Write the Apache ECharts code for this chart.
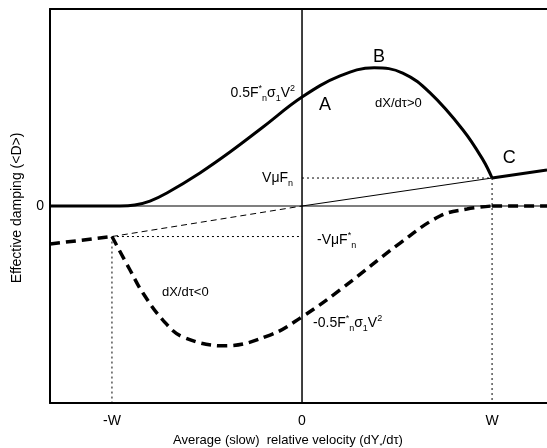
<!DOCTYPE html>
<html>
<head>
<meta charset="utf-8">
<script src="https://cdn.jsdelivr.net/npm/echarts@6/dist/echarts.min.js"></script>
<style>html,body{margin:0;padding:0;background:#fff}#c{width:547px;height:448px}</style>
</head>
<body>
<div id="c"></div>
<script>
// Units: x in multiples of W, y in normalised damping units
const xRange = [-1.326, 1.289];
const yRange = [-1, 1];
const xTickValues = [-1, 0, 1];
const xTickLabels = ['-W', '0', 'W'];
const yTickValues = [0];
const yTickLabels = ['0'];

// <D> for dX/dτ>0 (bold solid)
const solidCurve = [
  [-1.326, 0], [-0.958, 0], [-0.88, 0.005], [-0.80, 0.025], [-0.711, 0.066],
  [-0.537, 0.168], [-0.379, 0.274], [-0.205, 0.401], [0, 0.553], [0.2, 0.66],
  [0.38, 0.702], [0.53, 0.675], [0.674, 0.574], [0.847, 0.386],
  [0.953, 0.233], [1.0, 0.142]
];
const solidTail = [[1.0, 0.142], [1.289, 0.183]];

// <D> for dX/dτ<0 (bold dashed)
const dashedHead = [[-1.326, -0.193], [-1.0, -0.155]];
const dashedCurve = [
  [-1.0, -0.155], [-0.905, -0.325], [-0.837, -0.442], [-0.732, -0.579], [-0.626, -0.665],
  [-0.405, -0.71], [-0.168, -0.655], [0, -0.563], [0.2, -0.426],
  [0.516, -0.188], [0.726, -0.051], [0.868, -0.015], [1.0, 0]
];
const dashedTail = [[1.0, 0], [1.289, 0]];

// friction lines
const frictionPos = [[0, 0], [1.0, 0.142]];
const frictionNeg = [[-1.0, -0.155], [0, 0]];
const guideUpperH = [[0, 0.142], [1.0, 0.142]];
const guideUpperV = [[1.0, 0.142], [1.0, -1]];
const guideLowerH = [[-1.0, -0.155], [0, -0.155]];
const guideLowerV = [[-1.0, -0.155], [-1.0, -1]];
const zeroLine = [[-1.326, 0], [1.289, 0]];
const originLine = [[0, -1], [0, 1]];

// annotations [x, y, text, align, size]
const annotations = [
  [-0.037, 0.575, '{n|0.5F}{sup|*}{sub|n}{n|σ}{sub|1}{n|V}{sup|2}', 'right', 14],
  [0.121, 0.51, '{n|A}', 'center', 18],
  [0.405, 0.756, '{n|B}', 'center', 18],
  [1.09, 0.244, '{n|C}', 'center', 18],
  [0.384, 0.523, '{n|dX/dτ>0}', 'left', 13],
  [-0.047, 0.142, '{n|VμF}{sub|n}', 'right', 14],
  [0.079, -0.172, '{n|-VμF}{sup|*}{sub|n}', 'left', 14],
  [-0.737, -0.437, '{n|dX/dτ<0}', 'left', 13],
  [0.058, -0.594, '{n|-0.5F}{sup|*}{sub|n}{n|σ}{sub|1}{n|V}{sup|2}', 'left', 14]
];

const FONT = 'Liberation Sans, Arial, sans-serif';
const chart = echarts.init(document.getElementById('c'), null, {renderer: 'canvas'});

function line(data, width, type, smooth, z) {
  return {
    type: 'line', data: data, symbol: 'none', smooth: smooth || false,
    lineStyle: {color: '#000', width: width, type: type || 'solid', cap: 'butt'},
    silent: true, animation: false, z: z || 2
  };
}

chart.setOption({
  animation: false,
  backgroundColor: '#fff',
  grid: {left: 50, right: 0, top: 9, bottom: 45},
  xAxis: [{
    type: 'value', min: xRange[0], max: xRange[1], position: 'bottom',
    splitLine: {show: false},
    axisLine: {show: true, onZero: false, lineStyle: {color: '#000', width: 2}},
    axisTick: {show: false},
    axisLabel: {
      customValues: xTickValues, margin: 11, color: '#000', fontSize: 14, fontFamily: FONT,
      formatter: v => { const i = xTickValues.findIndex(t => Math.abs(t - v) < 1e-6); return i >= 0 ? xTickLabels[i] : ''; }
    }
  }, {
    type: 'value', min: xRange[0], max: xRange[1], position: 'top',
    splitLine: {show: false}, axisTick: {show: false}, axisLabel: {show: false},
    axisLine: {show: true, onZero: false, lineStyle: {color: '#000', width: 2}}
  }],
  yAxis: {
    type: 'value', min: yRange[0], max: yRange[1],
    splitLine: {show: false},
    axisLine: {show: true, onZero: false, lineStyle: {color: '#000', width: 2}},
    axisTick: {show: false},
    axisLabel: {
      customValues: yTickValues, margin: 6, color: '#000', fontSize: 14, fontFamily: FONT,
      formatter: v => { const i = yTickValues.findIndex(t => Math.abs(t - v) < 1e-6); return i >= 0 ? yTickLabels[i] : ''; }
    }
  },
  series: [
    line(zeroLine, 1.2, 'solid', false, 1),
    line(originLine, 1.5, 'solid', false, 1),
    line(frictionPos, 1, 'solid'),
    line(frictionNeg, 1, [6, 4]),
    line(guideUpperH, 1, [2, 3]),
    line(guideUpperV, 1, [2, 3]),
    line(guideLowerH, 1, [2, 3]),
    line(guideLowerV, 1, [2, 3]),
    line(solidCurve, 3, 'solid', 0.4, 3),
    line(solidTail, 3, 'solid', false, 3),
    line(dashedHead, 3.5, [10, 6], false, 3),
    line(dashedCurve, 3.5, [10, 6], 0.4, 3),
    line(dashedTail, 3.5, [10, 6], false, 3)
  ]
});

const rich = (fs) => ({
  n: {fontSize: fs, fontFamily: FONT, color: '#000', lineHeight: 22, verticalAlign: 'middle'},
  sub: {fontSize: 9, fontFamily: FONT, color: '#000', lineHeight: 22, verticalAlign: 'bottom', padding: [0, 0, 1, 0]},
  sup: {fontSize: 9, fontFamily: FONT, color: '#000', lineHeight: 22, verticalAlign: 'top', padding: [2, 0, 0, 0]}
});

const graphics = annotations.map(a => {
  const p = chart.convertToPixel({gridIndex: 0}, [a[0], a[1]]);
  return {
    type: 'text', x: p[0], y: p[1], silent: true, z: 10,
    style: {text: a[2], rich: rich(a[4]), align: a[3], verticalAlign: 'middle'}
  };
});
graphics.push({
  type: 'text', x: 288, y: 440, silent: true,
  style: {
    text: '{n|Average (slow)  relative velocity (dY}{sub|*}{n|/dτ)}',
    rich: {
      n: {fontSize: 13, fontFamily: FONT, color: '#000', lineHeight: 20, verticalAlign: 'middle'},
      sub: {fontSize: 8, fontFamily: FONT, color: '#000', lineHeight: 20, verticalAlign: 'bottom'}
    },
    align: 'center', verticalAlign: 'middle'
  }
});
graphics.push({
  type: 'text', x: 17, y: 208, rotation: Math.PI / 2, silent: true,
  style: {text: 'Effective damping (<D>)', font: '14px ' + FONT, fill: '#000', align: 'center', verticalAlign: 'middle'}
});
chart.setOption({graphic: graphics});
</script>
</body>
</html>
